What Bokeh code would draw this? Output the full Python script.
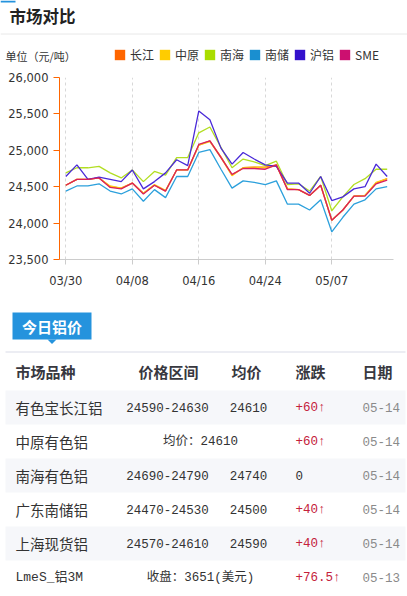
from bokeh.plotting import figure
from bokeh.layouts import column
from bokeh.models import (Range1d, FixedTicker, NumeralTickFormatter, Legend,
                          LegendItem)
from bokeh.core.properties import value
from bokeh.embed import file_html
from bokeh.resources import INLINE

# ---------------- data ----------------
dates = ["03/30", "03/31", "04/01", "04/02", "04/03", "04/07", "04/08", "04/09",
         "04/10", "04/13", "04/14", "04/15", "04/16", "04/17", "04/20", "04/21",
         "04/22", "04/23", "04/24", "04/27", "04/28", "04/29", "04/30", "05/06",
         "05/07", "05/08", "05/11", "05/12", "05/13", "05/14"]
changjiang = [24520, 24600, 24600, 24620, 24500, 24480, 24550, 24410, 24520, 24440,
              24730, 24730, 25070, 25130, 24910, 24660, 24760, 24770, 24770, 24800,
              24470, 24460, 24380, 24520, 24040, 24180, 24370, 24380, 24550, 24610]
zhongyuan = [24520, 24600, 24600, 24620, 24510, 24480, 24550, 24410, 24530, 24450,
             24730, 24730, 25070, 25120, 24900, 24650, 24760, 24770, 24760, 24790,
             24470, 24460, 24380, 24520, 24040, 24180, 24370, 24380, 24560, 24610]
nanhai = [24690, 24760, 24760, 24780, 24690, 24620, 24730, 24570, 24710, 24660,
          24900, 24900, 25240, 25320, 25040, 24760, 24880, 24840, 24790, 24850,
          24530, 24540, 24440, 24640, 24170, 24360, 24530, 24610, 24740, 24740]
nanchu = [24440, 24510, 24510, 24540, 24440, 24400, 24470, 24300, 24460, 24350,
          24640, 24640, 24970, 25010, 24740, 24480, 24580, 24560, 24530, 24580,
          24260, 24260, 24180, 24320, 23880, 24080, 24260, 24320, 24470, 24500]
hulv = [24640, 24800, 24600, 24630, 24600, 24570, 24730, 24470, 24570, 24690,
        24870, 24790, 25540, 25420, 25030, 24810, 24970, 24880, 24800, 24780,
        24550, 24550, 24410, 24640, 24310, 24360, 24470, 24500, 24810, 24640]
sme = [24520, 24600, 24600, 24620, 24490, 24470, 24550, 24400, 24520, 24440,
       24730, 24730, 25080, 25130, 24900, 24670, 24750, 24750, 24740, 24800,
       24460, 24460, 24380, 24520, 24040, 24180, 24370, 24370, 24540, 24590]

series_names = ["长江", "中原", "南海", "南储", "沪铝", "SME"]
series_values = [changjiang, zhongyuan, nanhai, nanchu, hulv, sme]
series_colors = ["#ff6600", "#ffcc00", "#aadd00", "#1a8fd0", "#3311cc", "#cc1070"]
line_colors = ["#ff6a10", "#ffcc10", "#b2de22", "#2ca0dc", "#4a2ad8", "#d81e5e"]
x_tick_index = [0, 6, 12, 18, 24]
y_ticks = [23500, 24000, 24500, 25000, 25500, 26000]

title_text = "市场对比"
unit_text = "单位（元/吨）"
tab_text = "今日铝价"
table_headers = ["市场品种", "价格区间", "均价", "涨跌", "日期"]
row_names = ["有色宝长江铝", "中原有色铝", "南海有色铝", "广东南储铝", "上海现货铝", "LmeS_铝3M"]
row_ranges = ["24590-24630", "", "24690-24790", "24470-24530", "24570-24610", ""]
row_avgs = ["24610", "", "24740", "24500", "24590", ""]
row_merged = ["", "均价：24610", "", "", "", "收盘：3651(美元)"]
row_changes = ["+60", "+60", "0", "+40", "+40", "+76.5"]
row_dates = ["05-14", "05-14", "05-14", "05-14", "05-14", "05-13"]

# ---------------- styles ----------------
W = 407
CJK = "'Noto Sans CJK SC', sans-serif"
MONO = "'Liberation Mono', 'Noto Sans CJK SC', monospace"
TXT = "#333333"
BLUE = "#2593dd"
NAN = float("nan")


def blank(h, top):
    f = figure(width=W, height=h, x_range=Range1d(0, W),
               y_range=Range1d(top + h, top), output_backend="svg",
               toolbar_location=None, min_border=0, frame_align=False,
               x_axis_type=None, y_axis_type=None)
    f.xgrid.visible = False
    f.ygrid.visible = False
    f.outline_line_color = None
    return f


# ---------------- header (title, unit, legend) ----------------
HEAD_H = 68
head = blank(HEAD_H, 0)
head.quad(left=[0], right=[15], top=[0], bottom=[2], fill_color=BLUE, line_color=None)
head.text(x=[9], y=[15], text=[title_text], text_font=value(CJK),
          text_font_size="16.5px", text_font_style="bold", text_color="#222222",
          text_baseline="middle")
head.segment(x0=[0], y0=[33.5], x1=[W], y1=[33.5], line_color="#e8e8e8", line_width=1)
head.text(x=[5], y=[55], text=[unit_text], text_font=value(CJK),
          text_font_size="11px", text_color=TXT, text_baseline="middle")

items = []
for name, col in zip(series_names, series_colors):
    r = head.quad(left=[NAN], right=[NAN], top=[NAN], bottom=[NAN],
                  fill_color=col, line_color=None)
    items.append(LegendItem(label=name, renderers=[r]))
legend = Legend(items=items, orientation="horizontal", location=(113, 5),
                glyph_width=13, glyph_height=13, label_standoff=4, spacing=4,
                padding=0, margin=0, border_line_color=None,
                background_fill_alpha=0, label_height=13,
                label_text_font=CJK, label_text_font_size="12px",
                label_text_color=TXT)
head.add_layout(legend)

# ---------------- chart ----------------
xs = list(range(len(dates)))
p = figure(width=W, height=230, x_range=Range1d(-0.57, 29.57),
           y_range=Range1d(23500, 26000), output_backend="svg",
           toolbar_location=None, min_border_left=59, min_border_right=14,
           min_border_top=9, min_border_bottom=39, frame_align=False)
p.outline_line_color = None
p.ygrid.visible = False
p.xgrid.ticker = FixedTicker(ticks=x_tick_index)
p.xgrid.grid_line_color = "#d8d8d8"
p.xgrid.grid_line_dash = "3 3"

p.xaxis.ticker = FixedTicker(ticks=x_tick_index)
p.xaxis.major_label_overrides = {i: dates[i] for i in x_tick_index}
p.xaxis.axis_line_color = "#cccccc"
p.xaxis.major_tick_line_color = "#cccccc"
p.xaxis.major_tick_out = 5
p.xaxis.major_tick_in = 0
p.xaxis.minor_tick_line_color = None
p.xaxis.major_label_standoff = 9
p.xaxis.major_label_text_font = "DejaVu Sans"
p.xaxis.major_label_text_font_size = "11.5px"
p.xaxis.major_label_text_color = TXT

p.yaxis.ticker = FixedTicker(ticks=y_ticks)
p.yaxis.formatter = NumeralTickFormatter(format="0,0")
p.yaxis.axis_line_color = "#ff6600"
p.yaxis.major_tick_line_color = "#ff6600"
p.yaxis.major_tick_out = 6
p.yaxis.major_tick_in = 0
p.yaxis.minor_tick_line_color = None
p.yaxis.major_label_standoff = 5
p.yaxis.major_label_text_font = "DejaVu Sans"
p.yaxis.major_label_text_font_size = "11.5px"
p.yaxis.major_label_text_color = TXT

for vals, col in zip(series_values, line_colors):
    p.line(x=xs, y=vals, line_color=col, line_width=1.3)

# ---------------- table ----------------
TOP = 68 + 230
t = blank(296, TOP)
t.quad(left=[12], right=[91], top=[312], bottom=[339], fill_color=BLUE, line_color=None)
t.patch(x=[47, 51.5, 56], y=[339, 343.5, 339], fill_color=BLUE, line_color=None)
t.text(x=[51.5], y=[326], text=[tab_text], text_font=value(CJK), text_font_size="15px",
       text_font_style="bold", text_color="white", text_align="center", text_baseline="middle")
t.segment(x0=[5], y0=[351.5], x1=[405], y1=[351.5], line_color="#e6e7ef", line_width=1.5)

hx = [15, 138, 231, 295, 362]
t.text(x=hx, y=[371] * 5, text=table_headers, text_font=value(CJK), text_font_size="15px",
       text_font_style="bold", text_color="#383840", text_baseline="middle")

n = len(row_names)
ry = [407 + 34 * k for k in range(n)]
shade = [k for k in range(n) if k % 2 == 0]
t.quad(left=[5] * len(shade), right=[405] * len(shade),
       top=[ry[k] - 17 for k in shade], bottom=[ry[k] + 17 for k in shade],
       fill_color="#f6f7fa", line_color=None)

for k in range(n):
    y = ry[k]
    is_lme = row_names[k].startswith("L")
    t.text(x=[15], y=[y], text=[row_names[k]], text_font=value(MONO if is_lme else CJK),
           text_font_size="13px" if is_lme else "14.5px", text_color=TXT,
           text_baseline="middle")
    if row_merged[k]:
        t.text(x=[200], y=[y], text=[row_merged[k]], text_font=value(MONO),
               text_font_size="12.5px", text_color=TXT, text_align="center",
               text_baseline="middle")
    else:
        t.text(x=[167], y=[y], text=[row_ranges[k]], text_font=value(MONO),
               text_font_size="12.5px", text_color=TXT, text_align="center",
               text_baseline="middle")
        t.text(x=[248], y=[y], text=[row_avgs[k]], text_font=value(MONO),
               text_font_size="12.5px", text_color=TXT, text_align="center",
               text_baseline="middle")
    ch = row_changes[k]
    up = ch.startswith("+")
    t.text(x=[295], y=[y], text=[ch + "↑" if up else ch], text_font=value(MONO),
           text_font_size="12.5px", text_color="#c4213a" if up else TXT,
           text_baseline="middle")
    t.text(x=[362], y=[y], text=[row_dates[k]], text_font=value(MONO),
           text_font_size="12.5px", text_color="#8a8a8a", text_baseline="middle")

layout = column(head, p, t, spacing=0)
open("out.html", "w").write(file_html(layout, INLINE))
